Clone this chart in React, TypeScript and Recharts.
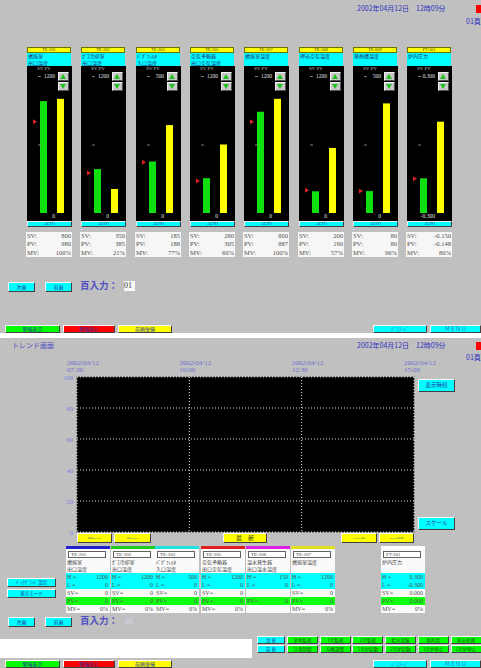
import React from 'react';
import { ComposedChart, Bar, Scatter, XAxis, YAxis, LineChart, Line, CartesianGrid } from 'recharts';

// ---------- top screen: bar panels ----------
const TAGS = ['TE-201', 'TE-202', 'TE-203', 'TE-205', 'TE-207', 'TE-208', 'TE-009', 'PT-301'];
const NAMES1 = ['燃焼室', 'ｶﾞｽ冷却室', 'ﾊﾞｸﾞﾌｨﾙﾀ', '空気予熱器', '燃焼室温度', '押込空気温度', '薬剤槽温度', '炉内圧力'];
const NAMES2 = ['出口温度', '出口温度', '入口温度', '出口空気温度', '', '', '', ''];
const RANGE_MIN = [0, 0, 0, 0, 0, 0, 0, -0.3];
const RANGE_MAX = [1200, 1200, 500, 1200, 1200, 1200, 500, 0.3];
const SV = [800, 350, 185, 280, 800, 200, 80, -0.15];
const PV = [980, 385, 188, 305, 887, 190, 80, -0.148];
const MV = [100, 21, 77, 60, 100, 57, 96, 80];

// ---------- bottom screen: trend ----------
const TIME_DATES = ['2002/04/12', '2002/04/12', '2002/04/12', '2002/04/12'];
const TIME_CLOCKS = ['07:30', '10:00', '12:30', '15:00'];
const TREND_Y_TICKS = [0, 20, 40, 60, 80, 100];
const TREND_TAGS = ['TE-201', 'TE-202', 'TE-103', 'TE-205', 'TE-206', 'TE-207', 'PT-301'];
const TREND_COLORS = ['#2020c8', '#20c820', '#20e0e0', '#e02020', '#e020e0', '#e0e020', '#ffffff'];
const TREND_N1 = ['燃焼室', 'ｶﾞｽ冷却室', 'ﾊﾞｸﾞﾌｨﾙﾀ', '空気予熱器', '温水発生器', '燃焼室温度', '炉内圧力'];
const TREND_N2 = ['出口温度', '出口温度', '入口温度', '出口空気温度', '出口温水温度', '', ''];
const TREND_H = ['1200', '1200', '500', '1200', '150', '1200', '0.300'];
const TREND_L = ['0', '0', '0', '0', '0', '0', '-0.300'];
const TREND_SV = ['0', '0', '0', '0', '', '0', '0.000'];
const TREND_PV = ['0', '0', '0', '0', '0', '0', '0.000'];
const TREND_MV = ['0%', '0%', '0%', '0%', '', '0%', '0%'];
const TREND_SERIES: (number | null)[][] = [
  [null, null, null, null],
  [null, null, null, null],
  [null, null, null, null],
  [null, null, null, null],
  [null, null, null, null],
  [null, null, null, null],
  [null, null, null, null],
];
const ROW1 = ['全体監視', '1号監視', '2号監視', '給水設備', '熱利用', '排水処理'];
const ROW2 = ['計測制御', '均衡調整', '1号炉起動', '2号炉起動', '1号炉停止', '2号炉停止'];

const SERIF = "'Liberation Serif','DejaVu Serif',serif";
const JP = "'Noto Sans CJK JP','Noto Sans',sans-serif";
const BG = '#c0c0c0';

const Btn = ({ l, t, w, h, bg, text, color = '#2030a0', fs = 5 }: any) => (
  <div
    style={{
      position: 'absolute', left: l, top: t, width: w, height: h, background: bg,
      boxSizing: 'border-box', borderStyle: 'solid', borderWidth: 1,
      borderColor: '#f8f8f8 #404040 #404040 #f8f8f8', fontFamily: JP, fontSize: fs,
      lineHeight: `${h - 2}px`, textAlign: 'center', color, whiteSpace: 'nowrap', overflow: 'hidden',
    }}
  >
    {text}
  </div>
);

const T = ({ l, t, text, fs = 6, color = '#303030', w, align = 'left', bold = false, font = JP, lh }: any) => (
  <div
    style={{
      position: 'absolute', left: l, top: t, width: w, fontSize: fs, lineHeight: `${lh ?? fs + 1}px`,
      color, textAlign: align, fontWeight: bold ? 700 : 400, fontFamily: font, whiteSpace: 'nowrap',
    }}
  >
    {text}
  </div>
);

const Rect = ({ l, t, w, h, bg, border }: any) => (
  <div style={{ position: 'absolute', left: l, top: t, width: w, height: h, background: bg, border, boxSizing: 'border-box' }} />
);

const fmt = (i: number, v: number) => (i === 7 ? v.toFixed(3) : String(v));

const svShape = (p: any) => (
  <polygon points={`${p.cx - 19},${p.cy - 2.5} ${p.cx - 15},${p.cy} ${p.cx - 19},${p.cy + 2.5}`} fill="#e02020" />
);

const Arrow = ({ l, t, up }: any) => (
  <div style={{ position: 'absolute', left: l, top: t, width: 11, height: 9, background: '#c8c8c8', boxSizing: 'border-box', borderStyle: 'solid', borderWidth: 1, borderColor: '#f0f0f0 #505050 #505050 #f0f0f0' }}>
    <div
      style={{
        position: 'absolute', left: 1, top: 1, width: 0, height: 0,
        borderLeft: '3.5px solid transparent', borderRight: '3.5px solid transparent',
        ...(up ? { borderBottom: '5px solid #20c020' } : { borderTop: '5px solid #20c020' }),
      }}
    />
  </div>
);

function Panel({ i }: { i: number }) {
  const x0 = Math.round(27 + i * 54.3);
  const min = RANGE_MIN[i];
  const max = RANGE_MAX[i];
  const mid = (min + max) / 2;
  const data = [{ name: TAGS[i], pv: [min, PV[i]], mv: MV[i], sv: SV[i] }];
  const pvTick = (p: any) => {
    const v = p.payload.value;
    const y = p.y;
    return (
      <g>
        {v !== min && <line x1={11} x2={14} y1={y + 0.5} y2={y + 0.5} stroke="#9a9a9a" strokeWidth={0.8} />}
        {v === max && (
          <text x={28} y={y + 2} textAnchor="end" fontSize={5.5} fill="#e0e0e0" fontFamily={SERIF}>{fmt(i, max)}</text>
        )}
        {v === min && (
          <text x={28} y={y + 4.5} textAnchor="end" fontSize={5.5} fill="#e0e0e0" fontFamily={SERIF}>{fmt(i, min)}</text>
        )}
      </g>
    );
  };
  const mvTick = (p: any) => {
    const v = p.payload.value;
    const y = p.y;
    return v === 100 ? (
      <text x={44} y={y - 2} textAnchor="end" fontSize={5.5} fill="#e8e800" fontFamily={SERIF}>100%</text>
    ) : (
      <text x={30} y={y + 4.5} fontSize={5.5} fill="#e8e800" fontFamily={SERIF}>0%</text>
    );
  };
  return (
    <>
      <div style={{ position: 'absolute', left: x0, top: 47, width: 44, height: 6, background: '#ffff00', boxSizing: 'border-box', border: '1px solid #707000', fontSize: 4.5, lineHeight: '4px', textAlign: 'center', color: '#404040', fontFamily: SERIF }}>{TAGS[i]}</div>
      <Rect l={x0} t={53} w={44} h={13} bg="#00ffff" />
      <T l={x0 + 1} t={53} text={NAMES1[i]} fs={5} color="#202070" />
      <T l={x0 + 1} t={59.5} text={NAMES2[i]} fs={5} color="#202070" />
      <Rect l={x0} t={66} w={45} h={155} bg="#000000" />
      <T l={x0 + 10} t={66} text="SV PV" fs={5} color="#c0c0c0" font={SERIF} />
      <div style={{ position: 'absolute', left: x0, top: 66, width: 45, height: 155 }}>
        <ComposedChart width={45} height={155} data={data} margin={{ top: 10, right: 0, bottom: 8, left: 0 }} barGap={10}>
          <XAxis dataKey="name" type="category" hide />
          <YAxis yAxisId="pv" type="number" domain={[min, max]} ticks={[min, mid, max]} width={5} axisLine={false} tickLine={false} tick={pvTick} interval={0} allowDataOverflow />
          <YAxis yAxisId="mv" orientation="right" type="number" domain={[0, 120]} ticks={[0, 100]} width={0} axisLine={false} tickLine={false} tick={mvTick} interval={0} allowDataOverflow />
          <Bar yAxisId="pv" dataKey="pv" fill="#10e010" barSize={7} isAnimationActive={false} />
          <Bar yAxisId="mv" dataKey="mv" fill="#ffff00" barSize={7} isAnimationActive={false} />
          <Scatter yAxisId="pv" dataKey="sv" shape={svShape} isAnimationActive={false} />
        </ComposedChart>
      </div>
      <Arrow l={x0 + 31} t={72} up />
      <Arrow l={x0 + 31} t={82} up={false} />
      <div style={{ position: 'absolute', left: x0, top: 221, width: 45, height: 6, background: '#00ffff', boxSizing: 'border-box', borderStyle: 'solid', borderWidth: 1, borderColor: '#f0f0f0 #404040 #404040 #f0f0f0', fontSize: 4, lineHeight: '4px', textAlign: 'center', color: '#303090', fontFamily: SERIF }}>AUTO</div>
      <Rect l={x0 - 1} t={232} w={46} h={25} bg="#f6f6f6" />
      {[['SV:', fmt(i, SV[i])], ['PV:', fmt(i, PV[i])], ['MV:', `${MV[i]}%`]].map((r, k) => (
        <React.Fragment key={k}>
          <T l={x0} t={232 + k * 8.3} text={r[0]} fs={6.5} lh={8} color="#505050" font={SERIF} />
          <T l={x0} t={232 + k * 8.3} w={44} align="right" text={r[1]} fs={6.5} lh={8} color="#505050" font={SERIF} />
        </React.Fragment>
      ))}
    </>
  );
}

const trendData = TIME_CLOCKS.map((c, k) => {
  const row: any = { t: k, clock: c };
  TREND_TAGS.forEach((tag, j) => {
    row[tag] = TREND_SERIES[j][k];
  });
  return row;
});

const timeTick = (p: any) => {
  const k = p.payload.value;
  return (
    <g>
      <text x={p.x - 10} y={16} fontSize={7} fill="#7070d0" fontFamily={SERIF}>{TIME_DATES[k]}</text>
      <text x={p.x - 10} y={23} fontSize={7} fill="#7070d0" fontFamily={SERIF}>{TIME_CLOCKS[k]}</text>
    </g>
  );
};

const yTick = (p: any) => (
  <text x={73} y={p.y + 2.5} textAnchor="end" fontSize={6.5} fill="#8080e0" fontFamily={SERIF}>{p.payload.value}</text>
);

const COL_X = [66, 111, 155, 201, 246, 291, 381];

function TrendCol({ j }: { j: number }) {
  const x = COL_X[j];
  const row = (t: number, a: string, b: string, bg: string, show: boolean) => (
    <>
      <Rect l={x} t={t} w={44} h={8} bg={bg} />
      {show && <T l={x + 1} t={t} text={a} fs={6} lh={8} color="#505050" font={SERIF} />}
      {show && <T l={x} t={t} w={42} align="right" text={b} fs={6} lh={8} color="#505050" font={SERIF} />}
    </>
  );
  return (
    <>
      <Rect l={x} t={546} w={44} h={3} bg={TREND_COLORS[j]} />
      <Rect l={x} t={549} w={44} h={24} bg="#fafafa" />
      <div style={{ position: 'absolute', left: x + 2, top: 551, width: 38, height: 7, border: '1px solid #606060', boxSizing: 'border-box', background: '#fff', fontSize: 5, lineHeight: '5px', color: '#404040', fontFamily: SERIF, paddingLeft: 2 }}>{TREND_TAGS[j]}</div>
      <T l={x + 1} t={559} text={TREND_N1[j]} fs={5} color="#404040" />
      <T l={x + 1} t={566} text={TREND_N2[j]} fs={5} color="#404040" />
      {row(573, 'H =', TREND_H[j], '#00ffff', true)}
      {row(580.5, 'L =', TREND_L[j], '#00ffff', true)}
      {row(589, 'SV=', TREND_SV[j], '#fafafa', TREND_SV[j] !== '')}
      {row(597, 'PV=', TREND_PV[j], '#10ff10', true)}
      {row(605, 'MV=', TREND_MV[j], '#fafafa', TREND_MV[j] !== '')}
    </>
  );
}

export default function App() {
  return (
    <div style={{ position: 'absolute', left: 0, top: 0, width: 481, height: 668, background: '#ffffff', overflow: 'hidden', fontFamily: JP }}>
      {/* top screen */}
      <Rect l={0} t={0} w={481} h={333} bg={BG} />
      <T l={357} t={4} text="2002年04月12日　12時09分" fs={7} color="#3030c0" />
      <Rect l={476} t={5} w={5} h={8} bg="#ff0000" />
      <T l={466} t={17} text="01頁" fs={7} color="#3030c0" />
      {TAGS.map((_, i) => <Panel key={i} i={i} />)}
      <Btn l={8} t={282} w={27} h={10} bg="#00ffff" text="次頁" />
      <Btn l={45} t={282} w={27} h={10} bg="#00ffff" text="前頁" />
      <T l={80} t={280} text="頁入力：" fs={9.5} color="#5050c0" bold />
      <div style={{ position: 'absolute', left: 124, top: 281, width: 11, height: 10, background: '#f8f8f8', fontSize: 8, lineHeight: '10px', fontFamily: SERIF, color: '#303030' }}>01</div>
      <Btn l={5} t={325} w={55} h={8} bg="#00ff00" text="警報表示" />
      <Btn l={63} t={325} w={52} h={8} bg="#ff0000" text="警報停止" />
      <Btn l={118} t={325} w={54} h={8} bg="#ffff00" text="前画復帰" />
      <Btn l={373} t={325} w={54} h={8} bg="#00ffff" text="ﾊﾟｽﾜｰﾄﾞ" color="#3080c0" />
      <Btn l={430} t={325} w={51} h={8} bg="#00ffff" text="M E N U" color="#3080c0" fs={6} />

      {/* bottom screen */}
      <Rect l={0} t={338} w={481} h={330} bg={BG} />
      <T l={12} t={341} text="トレンド画面" fs={7} color="#5050c0" />
      <T l={357} t={341} text="2002年04月12日　12時09分" fs={7} color="#3030c0" />
      <Rect l={476} t={342} w={5} h={8} bg="#ff0000" />
      <T l={466} t={353} text="01頁" fs={7} color="#3030c0" />
      <Rect l={76} t={376} w={339} h={157} bg="#909090" />
      <div style={{ position: 'absolute', left: 0, top: 349 }}>
        <LineChart width={481} height={190} data={trendData} margin={{ top: 0, right: 67, bottom: 7, left: 0 }}>
          <CartesianGrid stroke="#e0e0e0" strokeWidth={1} strokeDasharray="1 2" fill="#000000" fillOpacity={1} />
          <XAxis dataKey="t" type="number" domain={[0, 3]} ticks={[0, 1, 2, 3]} orientation="top" height={28} axisLine={false} tickLine={false} tick={timeTick} interval={0} allowDataOverflow />
          <YAxis type="number" domain={[0, 100]} ticks={TREND_Y_TICKS} width={77} axisLine={false} tickLine={false} tick={yTick} interval={0} allowDataOverflow />
          {TREND_TAGS.map((tag, j) => (
            <Line key={tag} dataKey={tag} stroke={TREND_COLORS[j]} dot={false} isAnimationActive={false} connectNulls={false} />
          ))}
        </LineChart>
      </div>
      <Btn l={418} t={379} w={37} h={13} bg="#00ffff" text="表示時刻" fs={5.5} />
      <Btn l={418} t={517} w={37} h={13} bg="#00ffff" text="スケール" fs={5.5} />
      <Btn l={77} t={533} w={35} h={10} bg="#ffff00" text="<<-----" fs={5} />
      <Btn l={114} t={533} w={37} h={10} bg="#ffff00" text="<-----" fs={5} />
      <Btn l={223} t={533} w={44} h={10} bg="#ffff00" text="最　新" fs={6} color="#303030" />
      <Btn l={341} t={533} w={36} h={10} bg="#ffff00" text="----->" fs={5} />
      <Btn l={379} t={533} w={35} h={10} bg="#ffff00" text="----->>" fs={5} />
      {TREND_TAGS.map((_, j) => <TrendCol key={j} j={j} />)}
      <Btn l={7} t={578} w={49} h={9} bg="#00ffff" text="ﾊﾞｯｸｸﾞﾗﾝﾄﾞ設定" fs={4.5} />
      <Btn l={7} t={589} w={49} h={9} bg="#00ffff" text="表示モード" fs={4.5} />
      <Btn l={8} t={617} w={27} h={10} bg="#00ffff" text="次頁" />
      <Btn l={45} t={617} w={27} h={10} bg="#00ffff" text="前頁" />
      <T l={80} t={615} text="頁入力：" fs={9.5} color="#5050c0" bold />
      <T l={125} t={617} text="01" fs={8} color="#d8d8f0" font={SERIF} />
      <Rect l={0} t={639} w={252} h={19} bg="#ffffff" />
      <Btn l={257} t={636} w={28} h={8} bg="#00ffff" text="次 頁" fs={4.5} />
      <Btn l={257} t={645} w={28} h={8} bg="#00ffff" text="前 頁" fs={4.5} />
      {ROW1.map((s, k) => (
        <Btn key={s} l={287 + k * 32.7} t={636} w={31} h={8} bg="#00ff00" text={s} fs={4.5} color="#205020" />
      ))}
      {ROW2.map((s, k) => (
        <Btn key={s} l={287 + k * 32.7} t={645} w={31} h={8} bg="#00ff00" text={s} fs={4.5} color="#205020" />
      ))}
      <Btn l={5} t={660} w={55} h={8} bg="#00ff00" text="警報表示" />
      <Btn l={63} t={660} w={52} h={8} bg="#ff0000" text="警報停止" />
      <Btn l={118} t={660} w={54} h={8} bg="#ffff00" text="前画復帰" />
      <Btn l={373} t={660} w={54} h={8} bg="#00ffff" text="ﾊﾟｽﾜｰﾄﾞ" color="#3080c0" />
      <Btn l={430} t={660} w={51} h={8} bg="#00ffff" text="M E N U" color="#3080c0" fs={6} />
    </div>
  );
}
